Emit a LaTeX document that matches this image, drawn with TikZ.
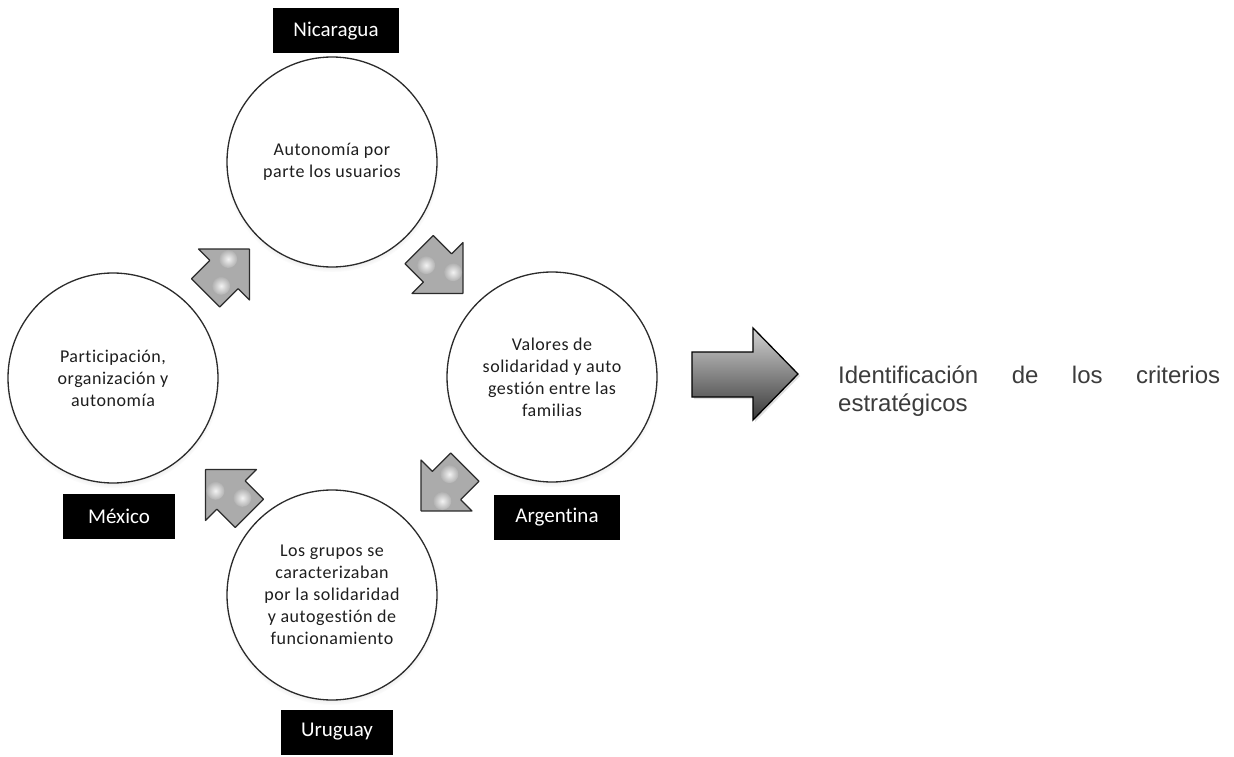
\documentclass[tikz,border=0pt]{standalone}
\usepackage{fontspec}
\setmainfont{Carlito}[RawFeature={-liga}]
\newfontfamily\captionfont{Liberation Sans}
\usetikzlibrary{calc,shadows,fadings}

\definecolor{inkgray}{HTML}{2B2B2B}
\definecolor{arrowgray}{HTML}{ABABAB}
\definecolor{captiongray}{HTML}{3C3C3C}
\definecolor{stagetext}{HTML}{1E1E1E}

\tikzset{
  stage/.style={circle, draw=inkgray, line width=1.3pt, fill=white,
    minimum size=210pt, inner sep=0pt, align=center, text=stagetext,
    font=\fontsize{18}{22}\selectfont\addfontfeatures{LetterSpace=3},
    circular drop shadow={shadow xshift=0pt, shadow yshift=-3pt,
      shadow scale=1.02, opacity=0.35}},
  country/.style={fill=black, text=white, minimum height=45pt, inner sep=0pt,
    font=\fontsize{21}{25}\selectfont},
  cyclearrow/.pic={
    \path[fill=arrowgray, draw=inkgray, line width=1.2pt, line join=round]
      (-31,-20) -- (-5,-20) -- (-5,-36) -- (31,0) -- (-5,36) -- (-5,20)
      -- (-31,20) -- cycle;
    \shade[inner color=white!85!arrowgray, outer color=arrowgray]
      (-15,6) circle (9);
    \shade[inner color=white!85!arrowgray, outer color=arrowgray]
      (9,-8) circle (9);
  }
}

\begin{document}
\begin{tikzpicture}[x=1pt,y=-1pt]
  \path[fill=white, use as bounding box] (0,0) rectangle (1234,757);

  % the four experiences
  \node[stage] (top)    at (332,162) {Autonomía por\\parte los usuarios};
  \node[stage] (left)   at (113,378) {Participación,\\organización y\\autonomía};
  \node[stage] (right)  at (552,377) {Valores de\\solidaridad y auto\\gestión entre las\\familias};
  \node[stage] (bottom) at (332,595) {Los grupos se\\caracterizaban\\por la solidaridad\\y autogestión de\\funcionamiento};

  % country tags
  \node[country, minimum width=126pt] (nic) at (336,31)  {Nicaragua};
  \node[country, minimum width=112pt] (mex) at (119,516) {México};
  \node[country, minimum width=126pt] (arg) at (557,517) {Argentina};
  \node[country, minimum width=112pt] (uru) at (337,732) {Uruguay};

  % clockwise cycle arrows
  \pic[rotate=45]   at ($(left)!0.5!(top)+(5,1)$)     {cyclearrow};
  \pic[rotate=-45]  at ($(top)!0.5!(right)+(-1,2)$)   {cyclearrow};
  \pic[rotate=-135] at ($(right)!0.5!(bottom)+(1,3)$) {cyclearrow};
  \pic[rotate=135]  at ($(bottom)!0.5!(left)+(5,5)$)  {cyclearrow};

  % result arrow
  \coordinate (rs) at (692,374);
  \path[top color=gray!35, bottom color=black!78, draw=black, line width=1.3pt,
        line join=miter,
        drop shadow={shadow xshift=2pt, shadow yshift=-2pt, opacity=0.25}]
    ($(rs)+(0,-22)$) -- ++(61,0) -- ++(0,-24) -- ($(rs)+(106,0)$)
    -- ($(rs)+(61,46)$) -- ++(0,-23) -- ($(rs)+(0,23)$) -- cycle;

  \node[anchor=base west, inner sep=0pt, align=left, text=captiongray,
        font=\captionfont\fontsize{24}{28}\selectfont] (goal) at (838,411)
    {\makebox[382pt][s]{Identificación de los criterios}\\estratégicos};
\end{tikzpicture}
\end{document}
